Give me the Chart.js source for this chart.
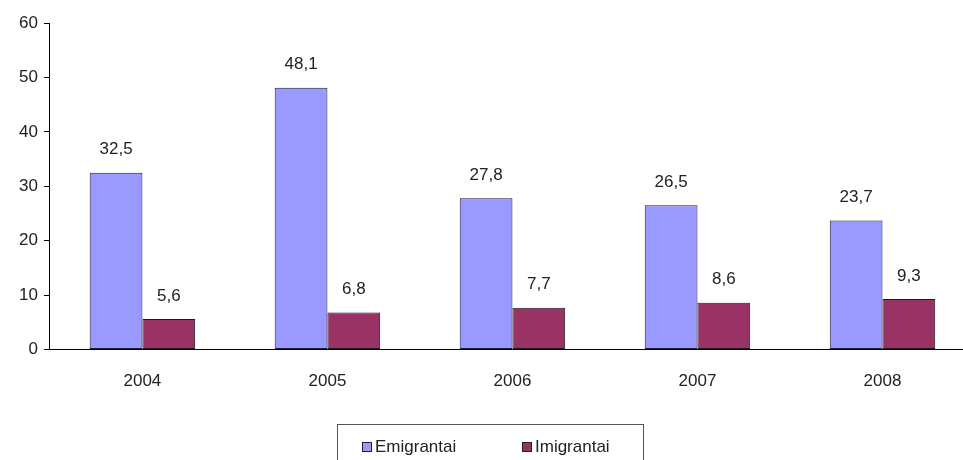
<!DOCTYPE html>
<html>
<head>
<meta charset="utf-8">
<script src="https://cdn.jsdelivr.net/npm/chart.js@4"></script>
<style>
  html, body { margin: 0; padding: 0; background: #fff; overflow: hidden; }
  #wrap { width: 975px; height: 460px; position: relative; }
</style>
</head>
<body>
<div id="wrap"><canvas id="myBarChart"></canvas></div>
<script>
// duomenys
const years = ['2004', '2005', '2006', '2007', '2008'];
const emigrantai = [32.5, 48.1, 27.8, 26.5, 23.7];
const imigrantai = [5.6, 6.8, 7.7, 8.6, 9.3];
const yTicks = [0, 10, 20, 30, 40, 50, 60];

const fontFam = '"Liberation Sans", Arial, sans-serif';
const textColor = '#222';

// reiksmes virs stulpeliu
const valueLabels = {
    id: 'valueLabels',
    afterDatasetsDraw(chart) {
        const ctx = chart.ctx;
        ctx.save();
        ctx.font = '17px ' + fontFam;
        ctx.fillStyle = textColor;
        ctx.textAlign = 'center';
        ctx.textBaseline = 'middle';
        chart.data.datasets.forEach((ds, i) => {
            chart.getDatasetMeta(i).data.forEach((bar, j) => {
                const txt = ds.data[j].toString().replace('.', ',');
                ctx.fillText(txt, bar.x, bar.y - 23);
            });
        });
        ctx.restore();
    }
};

// legenda su remeliu apacioje
const boxLegend = {
    id: 'boxLegend',
    afterDraw(chart) {
        const ctx = chart.ctx;
        ctx.save();
        ctx.strokeStyle = '#555';
        ctx.lineWidth = 1;
        ctx.strokeRect(337.5, 424.5, 306, 50);
        ctx.font = '17px ' + fontFam;
        ctx.textBaseline = 'middle';
        ctx.textAlign = 'left';
        const xs = [362, 522];
        chart.data.datasets.forEach((ds, i) => {
            ctx.fillStyle = ds.backgroundColor;
            ctx.fillRect(xs[i] + 0.5, 442.5, 9, 9);
            ctx.strokeStyle = '#222';
            ctx.strokeRect(xs[i] + 0.5, 442.5, 9, 9);
            ctx.fillStyle = textColor;
            ctx.fillText(ds.label, xs[i] + 13, 447);
        });
        ctx.restore();
    }
};

const ctxBar = document.getElementById('myBarChart').getContext('2d');
const myBarChart = new Chart(ctxBar, {
    type: 'bar',
    data: {
        labels: years,
        datasets: [{
            label: 'Emigrantai',
            data: emigrantai,
            backgroundColor: '#9999FF',
            borderColor: '#1a1a3a',
            borderWidth: 1,
            borderSkipped: false
        }, {
            label: 'Imigrantai',
            data: imigrantai,
            backgroundColor: '#993366',
            borderColor: '#1a1a1a',
            borderWidth: 1,
            borderSkipped: false
        }]
    },
    options: {
        responsive: true,
        maintainAspectRatio: false,
        animation: false,
        layout: { padding: { left: 13, top: 23, right: 0, bottom: 46 } },
        plugins: {
            legend: { display: false },
            tooltip: { enabled: false }
        },
        datasets: {
            bar: { categoryPercentage: 0.57, barPercentage: 1 }
        },
        scales: {
            x: {
                grid: { display: true, drawOnChartArea: false, drawTicks: false },
                border: { display: true, color: '#000', width: 1 },
                ticks: { color: textColor, font: { family: fontFam, size: 17 }, padding: 22 }
            },
            y: {
                min: 0,
                max: 60,
                afterBuildTicks(axis) {
                    axis.ticks = yTicks.map(v => ({ value: v }));
                },
                grid: { drawOnChartArea: false, drawTicks: true, tickLength: 6, color: '#000' },
                border: { display: true, color: '#000', width: 1 },
                ticks: { color: textColor, font: { family: fontFam, size: 17 }, padding: 6 }
            }
        }
    },
    plugins: [valueLabels, boxLegend]
});
</script>
</body>
</html>
